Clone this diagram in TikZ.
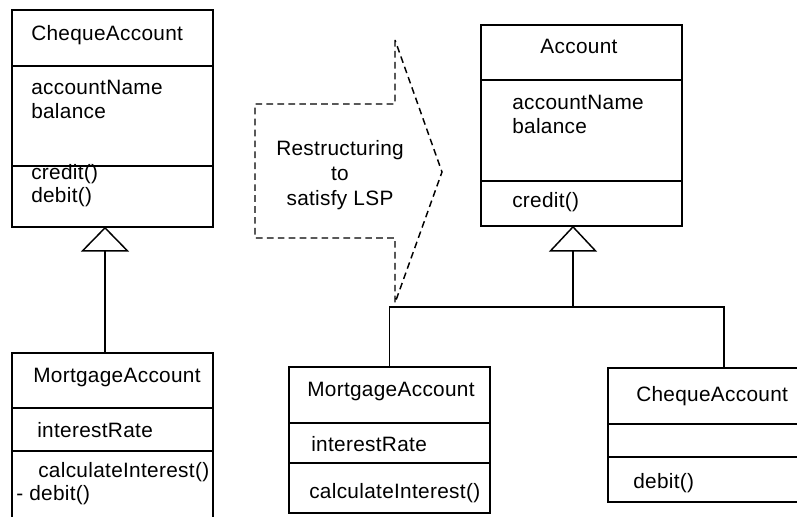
\documentclass[tikz,border=0pt]{standalone}
\usepackage{fontspec}
\setmainfont{Liberation Sans}[LetterSpace=1.5]
\usepackage{tikz}
\usetikzlibrary{calc}
\newcommand\pxu{0.75pt}
\newcommand\umlfont{\fontsize{15.6pt}{19pt}\selectfont}
\tikzset{
  cls/.style={draw, line width=1.4pt, inner sep=0pt, anchor=north west},
  sep/.style={line width=0.9pt},
  lbl/.style={anchor=base west, inner sep=0pt, font=\umlfont},
  gen/.style={draw, line width=1.1pt, fill=white, line join=miter},
  lnk/.style={line width=1.3pt},
  rstr/.style={dash pattern=on 5pt off 3.2pt, line width=1.1pt},
  every picture/.append style={x=\pxu, y=-\pxu}
}
\begin{document}
\begin{tikzpicture}
  \useasboundingbox (0,0) rectangle (797,517);
  \clip (0,0) rectangle (797,517);

  \node[cls, minimum width=201*\pxu, minimum height=217*\pxu] (cqL) at (11,9) {};
  \draw[sep] (cqL.west |- 0,66) -- (cqL.east |- 0,66);
  \draw[sep] (cqL.west |- 0,166) -- (cqL.east |- 0,166);
  \node[lbl] (cqLn) at (31,41) {ChequeAccount};
  \node[lbl] (cqLa) at (31,95) {accountName};
  \node[lbl] (cqLb) at (31,118) {balance};
  \node[lbl] (cqLc) at (31,180) {credit()};
  \node[lbl] (cqLd) at (31,203) {debit()};

  \node[cls, minimum width=201*\pxu, minimum height=180*\pxu] (mgL) at (11,352) {};
  \draw[sep] (mgL.west |- 0,408) -- (mgL.east |- 0,408);
  \draw[sep] (mgL.west |- 0,451) -- (mgL.east |- 0,451);
  \node[lbl] (mgLn) at (33,382) {MortgageAccount};
  \node[lbl] (mgLr) at (37,437) {interestRate};
  \node[lbl] (mgLi) at (38,477) {calculateInterest()};
  \node[lbl] (mgLd) at (16,500) {- debit()};

  \coordinate (g1) at (105,249);
  \draw[lnk] (g1) -- (g1 |- mgL.north);
  \draw[gen] (cqL.south -| g1) -- ++(22.5,23) -- ++(-45,0) -- cycle;

  \node[cls, minimum width=201*\pxu, minimum height=201*\pxu] (acc) at (480,24) {};
  \draw[sep] (acc.west |- 0,80) -- (acc.east |- 0,80);
  \draw[sep] (acc.west |- 0,181) -- (acc.east |- 0,181);
  \node[lbl, anchor=base] (accn) at (579,54) {Account};
  \node[lbl] (acca) at (512,110) {accountName};
  \node[lbl] (accb) at (512,133) {balance};
  \node[lbl] (accc) at (512,208) {credit()};

  \node[cls, minimum width=201*\pxu, minimum height=146*\pxu] (mgR) at (288,366) {};
  \draw[sep] (mgR.west |- 0,423) -- (mgR.east |- 0,423);
  \draw[sep] (mgR.west |- 0,463) -- (mgR.east |- 0,463);
  \node[lbl] (mgRn) at (307,396) {MortgageAccount};
  \node[lbl] (mgRr) at (311,451) {interestRate};
  \node[lbl] (mgRi) at (309,498) {calculateInterest()};

  \node[cls, minimum width=205*\pxu, minimum height=134*\pxu] (chR) at (607,367) {};
  \draw[sep] (chR.west |- 0,424) -- (chR.east |- 0,424);
  \draw[sep] (chR.west |- 0,457) -- (chR.east |- 0,457);
  \node[lbl] (chRn) at (636,401) {ChequeAccount};
  \node[lbl] (chRd) at (633,488) {debit()};

  \coordinate (g2) at (573,249);
  \coordinate (hub) at (573,307);
  \coordinate (j2) at (724,307);
  \draw[lnk] (g2) -- (hub);
  \draw[lnk] (mgR.north) |- (j2) -- (j2 |- chR.north);
  \draw[gen] (acc.south -| g2) -- ++(22.5,24) -- ++(-45,0) -- cycle;

  \draw[rstr] (395,40) -- (395,104) -- (255,104) -- (255,238) -- (395,238)
    -- (395,303) -- (442,172) -- cycle;
  \node[font=\umlfont, align=center, inner sep=0pt] (rs) at (340,175)
    {Restructuring\\to\\satisfy LSP};
\end{tikzpicture}
\end{document}
